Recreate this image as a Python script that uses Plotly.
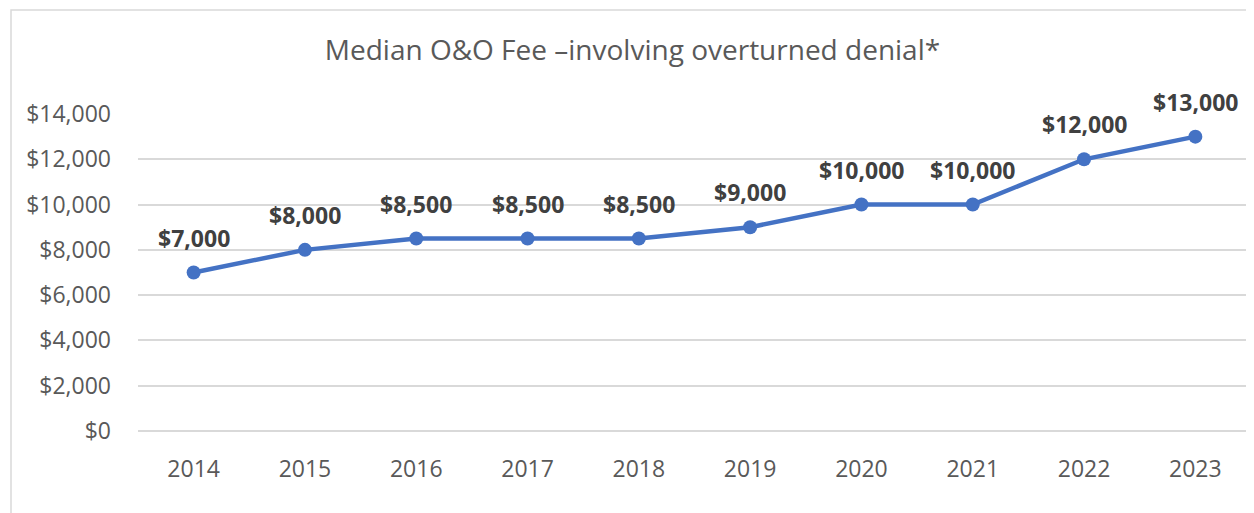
import plotly.graph_objects as go

# -----------------------------------
# Data
# -----------------------------------
years = ["2014", "2015", "2016", "2017", "2018", "2019", "2020", "2021", "2022", "2023"]
median_fee = [7000, 8000, 8500, 8500, 8500, 9000, 10000, 10000, 12000, 13000]
y_ticks = [0, 2000, 4000, 6000, 8000, 10000, 12000, 14000]

LINE_BLUE = "#4472C4"
GRID = "#D9D9D9"
TEXT_GREY = "#595959"
FONT = "Open Sans"

fig = go.Figure()

fig.add_trace(
    go.Scatter(
        x=years,
        y=median_fee,
        mode="lines+markers",
        line=dict(color=LINE_BLUE, width=4.5),
        marker=dict(color=LINE_BLUE, size=14),
        showlegend=False,
        hoverinfo="x+y",
    )
)

# data labels above each point (category index for x)
for i, val in enumerate(median_fee):
    fig.add_annotation(
        x=i,
        y=val,
        text=f"<b>${val:,}</b>",
        showarrow=False,
        yshift=35,
        font=dict(family=FONT, size=23, color="#404040"),
    )

# chart frame (Excel chart area border)
fig.add_shape(
    type="rect",
    xref="paper", yref="paper",
    x0=-0.1141, x1=1.05, y0=-0.35, y1=1.328,
    line=dict(color=GRID, width=1.5),
    fillcolor="rgba(0,0,0,0)",
    layer="below",
)

fig.update_layout(
    width=1254,
    height=513,
    paper_bgcolor="white",
    plot_bgcolor="white",
    margin=dict(l=130, r=11, t=106, b=90),
    title=dict(
        text="Median O&O Fee \u2013involving overturned denial*",
        x=0.498, xanchor="center",
        y=0.918, yanchor="middle",
        font=dict(family=FONT, size=28, color=TEXT_GREY),
    ),
    xaxis=dict(
        type="category",
        range=[-0.5, len(years) - 0.5],
        automargin=False,
        showgrid=False,
        showline=False,
        zeroline=False,
        ticks="",
        ticklabelstandoff=22,
        tickfont=dict(family=FONT, size=23, color=TEXT_GREY),
    ),
    yaxis=dict(
        range=[0, 14000],
        automargin=False,
        tickvals=y_ticks,
        ticktext=[f"${v:,}" for v in y_ticks],
        showgrid=True,
        gridcolor=GRID,
        gridwidth=1.5,
        zeroline=True,
        zerolinecolor=GRID,
        zerolinewidth=1.5,
        showline=False,
        ticks="",
        ticklabelstandoff=26,
        tickfont=dict(family=FONT, size=23, color=TEXT_GREY),
    ),
)

fig.write_html("out.html")
